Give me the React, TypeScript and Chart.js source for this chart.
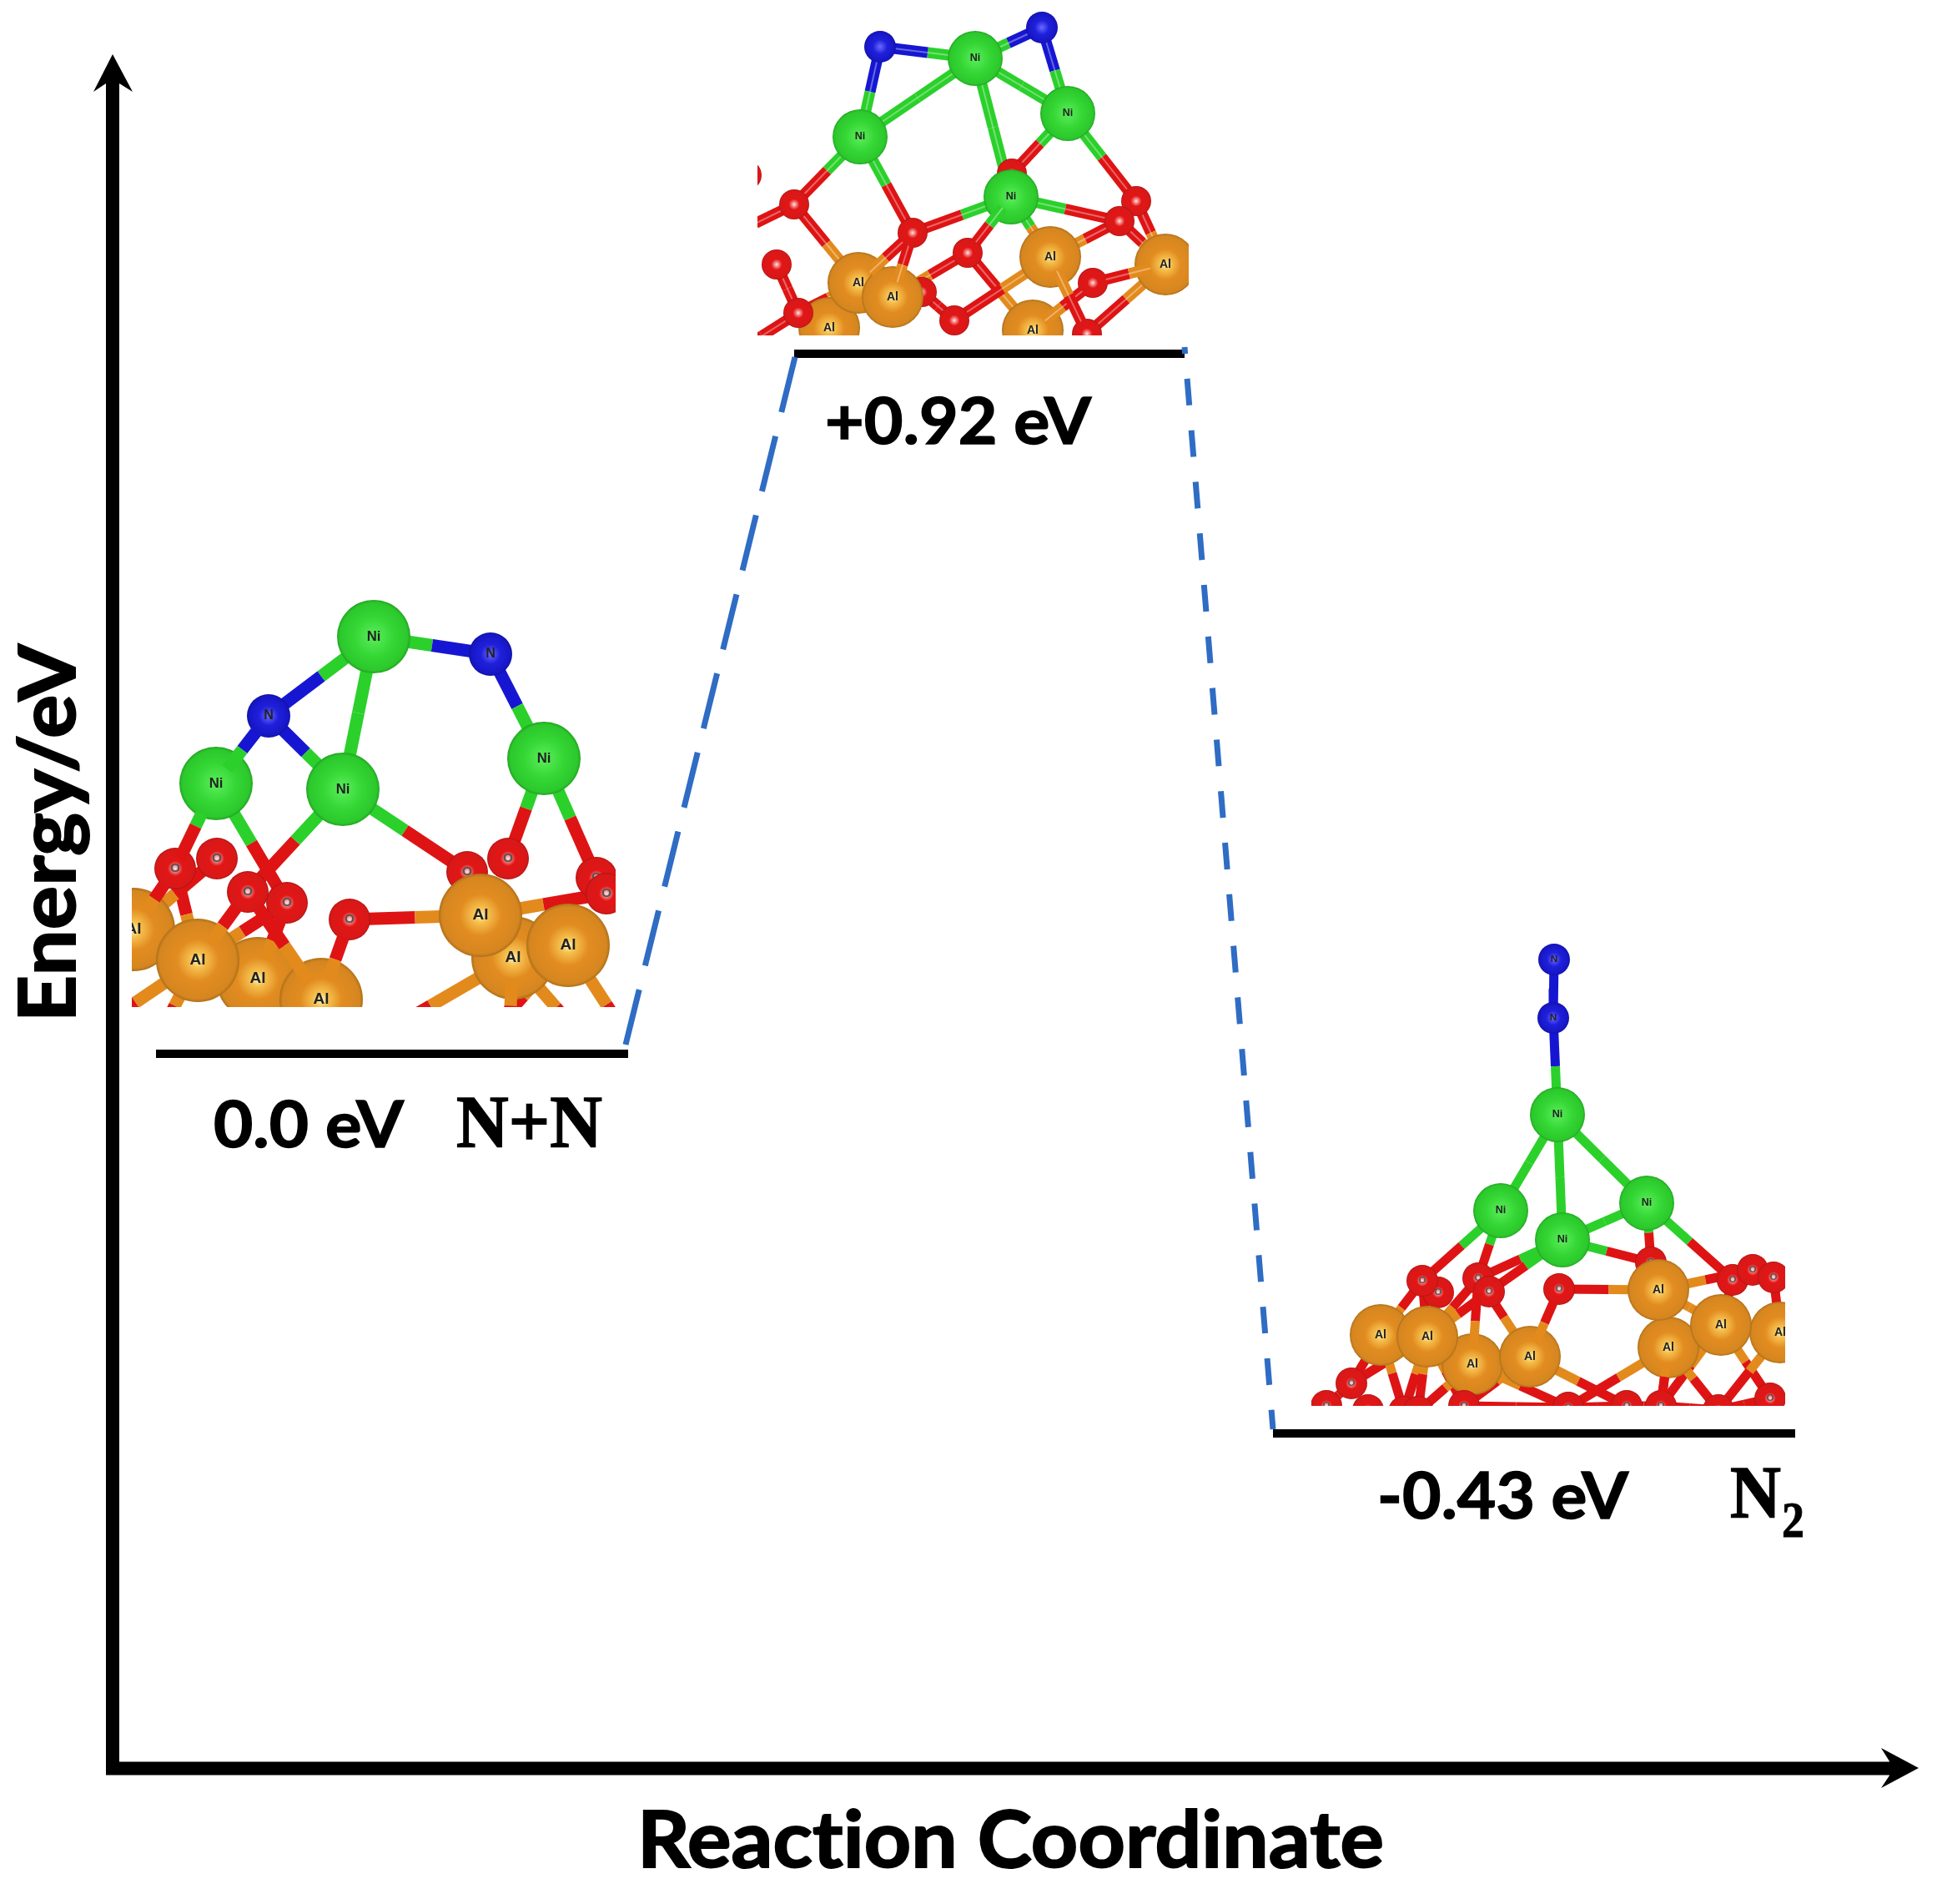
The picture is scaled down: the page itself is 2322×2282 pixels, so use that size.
import React, { useEffect, useRef } from "react";
import { Chart, registerables } from "chart.js";

Chart.register(...registerables);

const FIG_W = 2322;
const FIG_H = 2282;

type Atom = [string, number, number];
type Bond = [number, number];
type P = { x: number; y: number };

// Energy levels (figure units)
const levelNames = ["N+N", "TS", "N2"];
const levelEnergies = ["0.0 eV", "+0.92 eV", "-0.43 eV"];
const levelStartX = [187, 952, 1526];
const levelEndX = [753, 1420, 2152];
const levelY = [1263, 424, 1718];

// Dashed connectors
const riseX = [953, 750];
const riseY = [428, 1252];
const fallX = [1420, 1526];
const fallY = [416, 1713];

// Axes
const xAxisX = [127, 2275];
const xAxisY = [2119.5, 2119.5];
const yAxisX = [135, 135];
const yAxisY = [2127, 95];
const xHeadX = [2300, 2255, 2265, 2265, 2255, 2300];
const xHeadY = [2119, 2095, 2111, 2128, 2143, 2119];
const yHeadX = [135, 159, 143, 127, 112, 135];
const yHeadY = [65, 110, 100, 100, 110, 65];

// Structure 1: N+N
const mol1Atoms: Atom[] = [
  ["Ni", 448, 763], ["N", 588, 784], ["Ni", 652, 909], ["N", 322, 858], ["Ni", 259, 939], ["Ni", 411, 946],
  ["O", 560, 1045], ["O", 609, 1029], ["O", 715, 1052], ["O", 260, 1029], ["O", 344, 1082], ["O", 210, 1041],
  ["O", 297, 1069], ["O", 419, 1102], ["Al", 160, 1114], ["Al", 309, 1173], ["Al", 615, 1148], ["Al", 237, 1151],
  ["Al", 385, 1198], ["Al", 681, 1133], ["Al", 576, 1097], ["O", 727, 1071],
  ["O", 88, 1252], ["O", 417, 1263], ["O", 609, 1263], ["O", 573, 1255], ["O", 773, 1275], ["O", 718, 1267],
  ["O", 182, 1260], ["O", 337, 1260],
];
const mol1Bonds: Bond[] = [
  [0, 1], [0, 3], [0, 5], [1, 2], [3, 5], [2, 7], [2, 8], [4, 10], [5, 12], [5, 6], [11, 17], [13, 20],
  [20, 21], [17, 10], [14, 9], [17, 22], [16, 23], [19, 25], [19, 26], [16, 27], [17, 28], [17, 29],
];
const mol1Front: Bond[] = [
  [3, 4], [4, 11], [11, 14], [12, 17], [10, 15], [13, 18], [24, 16], [12, 18],
];

// Structure 2: transition state
const mol2Atoms: Atom[] = [
  ["Ni", 1169, 70], ["N", 1055, 56], ["N", 1249, 33], ["Ni", 1031, 164], ["Ni", 1280, 136], ["O", 1213, 208],
  ["Ni", 1212, 236], ["O", 952, 245], ["O", 1094, 279], ["O", 1160, 303], ["O", 1362, 241], ["O", 1342, 265],
  ["O", 1105, 350], ["O", 931, 317], ["Al", 994, 393], ["O", 957, 375], ["O", 1144, 384], ["Al", 1238, 396],
  ["Al", 1259, 308], ["Al", 1397, 317], ["O", 1310, 339], ["O", 1303, 400], ["Al", 1029, 339], ["Al", 1070, 356],
  ["Al", 860, 290], ["O", 895, 210], ["O", 870, 430],
];
const mol2Bonds: Bond[] = [
  [0, 1], [0, 2], [0, 3], [0, 4], [0, 6], [1, 3], [2, 4], [3, 7], [3, 8], [6, 8], [6, 11], [6, 18], [4, 5],
  [4, 10], [7, 22], [7, 24], [9, 23], [9, 17], [11, 18], [10, 19], [11, 19], [20, 17], [16, 18], [21, 19],
  [13, 15], [15, 14], [12, 16], [15, 26], [15, 22],
];
const mol2Front: Bond[] = [
  [9, 6], [8, 23], [8, 22], [20, 17], [21, 18], [20, 19],
];

// Structure 3: N2
const mol3Atoms: Atom[] = [
  ["N", 1863, 1150], ["N", 1862, 1220], ["Ni", 1867, 1336], ["Ni", 1799, 1451], ["Ni", 1974, 1442], ["Ni", 1873, 1486],
  ["O", 1979, 1513], ["O", 1724, 1549], ["O", 1705, 1535], ["O", 1772, 1532], ["O", 1869, 1545], ["O", 2077, 1534],
  ["O", 2101, 1522], ["O", 2126, 1531], ["O", 1620, 1658], ["Al", 1655, 1600], ["Al", 1765, 1635], ["Al", 1711, 1602],
  ["Al", 1834, 1626], ["Al", 2134, 1597], ["Al", 2000, 1615], ["Al", 1988, 1546], ["Al", 2063, 1588], ["O", 2122, 1676],
  ["O", 1950, 1685], ["O", 1991, 1685], ["O", 1755, 1685], ["O", 1880, 1687], ["O", 1590, 1685], ["O", 1640, 1690],
  ["O", 2060, 1690], ["O", 1683, 1692], ["O", 1700, 1692], ["O", 1785, 1548],
];
const mol3Bonds: Bond[] = [
  [0, 1], [1, 2], [2, 3], [2, 4], [2, 5], [3, 8], [3, 9], [5, 4], [5, 9], [5, 33], [5, 6], [4, 6], [4, 11], [8, 15],
  [9, 17], [9, 18], [10, 21], [21, 12], [21, 22], [15, 14], [17, 14], [17, 26], [16, 26], [18, 24], [18, 26],
  [20, 27], [20, 25], [22, 25], [22, 23], [14, 28], [19, 13], [22, 11], [26, 27], [27, 24], [24, 25], [25, 30],
  [30, 23], [16, 27], [17, 31], [15, 31], [16, 32], [17, 32], [19, 30], [20, 30], [33, 17], [8, 17],
];
const mol3Front: Bond[] = [
  [9, 16], [10, 18], [25, 20],
];

// Presentation
const crops = [
  { left: 158, right: 738, top: 0, bottom: 1207 },
  { left: 908, right: 1425, top: 0, bottom: 402 },
  { left: 1572, right: 2140, top: 0, bottom: 1685 },
];
const radii = [
  { Ni: 44, N: 26, O: 25, Al: 50 },
  { Ni: 33, N: 19, O: 18, Al: 37 },
  { Ni: 33, N: 19, O: 19, Al: 37 },
] as Record<string, number>[];
const bondWidths = [15, 13, 11];
const labelSmallAtoms = [true, false, true];
const bondColors: Record<string, string> = { Ni: "#2bd02b", N: "#1616d2", O: "#de1414", Al: "#e38a1c" };
const shades: Record<string, [number, string][]> = {
  Ni: [[0, "#5cee5c"], [0.55, "#34d634"], [0.92, "#2cc82c"], [1, "#22a422"]],
  N: [[0, "#6a6aff"], [0.45, "#2020dc"], [0.92, "#1616c4"], [1, "#10109c"]],
  O: [[0, "#ffe8e8"], [0.16, "#f28080"], [0.36, "#e21616"], [0.92, "#d81818"], [1, "#ac1212"]],
  Al: [[0, "#fff6c0"], [0.18, "#f6c04e"], [0.5, "#e28c20"], [0.92, "#d68620"], [1, "#ae701a"]],
};

function atomSprite(type: string, r: number, labelled: boolean): HTMLCanvasElement {
  const c = document.createElement("canvas");
  c.width = c.height = Math.ceil(2 * r + 2);
  const g = c.getContext("2d")!;
  const m = c.width / 2;
  const grad = g.createRadialGradient(m, m, 0, m, m, r);
  shades[type].forEach(([s, col]) => grad.addColorStop(s, col));
  g.fillStyle = grad;
  g.beginPath();
  g.arc(m, m, r, 0, Math.PI * 2);
  g.fill();
  if (labelled) {
    const size = type === "O" || type === "N" ? r * 0.62 : r * 0.38;
    g.font = `bold ${size}px "Liberation Sans"`;
    g.textAlign = "center";
    g.textBaseline = "middle";
    g.fillStyle = type === "O" ? "#555" : "#222";
    g.fillText(type, m, m);
  }
  return c;
}

function buildMolecule(atoms: Atom[], bonds: Bond[], front: Bond[], mi: number, paint: any[]) {
  const crop = crops[mi];
  const rad = radii[mi];
  const clip = {
    left: -crop.left,
    right: -(FIG_W - crop.right),
    top: -crop.top,
    bottom: -(FIG_H - crop.bottom),
  };
  const line = (a: P, b: P, color: string, width: number) =>
    paint.push({ data: [a, b], borderColor: color, borderWidth: width, pointRadius: 0, clip, borderCapStyle: "butt" });
  const bond = (A: Atom, B: Atom, isFront: boolean) => {
    let a = { x: A[1], y: A[2] };
    let b = { x: B[1], y: B[2] };
    const mid = { x: (a.x + b.x) / 2, y: (a.y + b.y) / 2 };
    if (isFront) {
      const len = Math.hypot(b.x - a.x, b.y - a.y);
      const ux = (b.x - a.x) / len;
      const uy = (b.y - a.y) / len;
      a = { x: a.x + ux * rad[A[0]] * 0.9, y: a.y + uy * rad[A[0]] * 0.9 };
      b = { x: b.x - ux * rad[B[0]] * 0.5, y: b.y - uy * rad[B[0]] * 0.5 };
    }
    line(a, mid, bondColors[A[0]], bondWidths[mi]);
    line(mid, b, bondColors[B[0]], bondWidths[mi]);
    if (mi === 1) {
      line(a, b, "rgba(255,255,255,0.35)", 2);
    }
  };
  bonds.forEach(([i, j]) => bond(atoms[i], atoms[j], false));
  atoms.forEach(([t, x, y]) => {
    const labelled = t === "Ni" || t === "Al" || labelSmallAtoms[mi];
    paint.push({
      data: [{ x, y }],
      showLine: false,
      pointStyle: atomSprite(t, rad[t], labelled),
      pointRadius: rad[t],
      clip,
    });
  });
  front.forEach(([i, j]) => bond(atoms[i], atoms[j], true));
}

const pts = (xs: number[], ys: number[]): P[] => xs.map((x, i) => ({ x, y: ys[i] }));

function fitText(
  ctx: CanvasRenderingContext2D,
  text: string,
  font: string,
  x: number,
  y: number,
  width: number,
  angle = 0,
  heavy = 0,
) {
  ctx.save();
  ctx.font = font;
  (ctx as any).letterSpacing = "0.1px";
  ctx.textAlign = "left";
  ctx.textBaseline = "alphabetic";
  ctx.fillStyle = "#000";
  ctx.strokeStyle = "#000";
  ctx.lineWidth = heavy;
  ctx.translate(x, y);
  ctx.rotate(angle);
  ctx.scale(width / ctx.measureText(text).width, 1);
  ctx.fillText(text, 0, 0);
  if (heavy > 0) ctx.strokeText(text, 0, 0);
  ctx.restore();
}

const figureText = {
  id: "figureText",
  afterDatasetsDraw(chart: any) {
    const ctx = chart.ctx as CanvasRenderingContext2D;
    const X = (v: number) => chart.scales.x.getPixelForValue(v);
    const Y = (v: number) => chart.scales.y.getPixelForValue(v);
    const sans = (s: number) => `bold ${s}px Lato`;
    const serif = (s: number) => `bold ${s}px "Liberation Serif"`;
    fitText(ctx, levelEnergies[0], sans(76), X(256), Y(1375), 228, 0, 1.5);
    fitText(ctx, "N+N", serif(89), X(547), Y(1374), 175, 0, 1.5);
    fitText(ctx, levelEnergies[1], sans(76), X(989), Y(532), 319, 0, 1.5);
    fitText(ctx, levelEnergies[2], sans(76), X(1651), Y(1820), 301, 0, 1.5);
    fitText(ctx, "N", serif(89), X(2074), Y(1818), 61, 0, 1.5);
    fitText(ctx, "2", serif(62), X(2136), Y(1842), 27, 0, 1);
    fitText(ctx, "Reaction Coordinate", sans(94), X(764), Y(2238), 895, 0, 2);
    fitText(ctx, "Energy/eV", sans(93), X(90), Y(1225), 453, -Math.PI / 2, 2);
  },
};

export default function App() {
  const ref = useRef<HTMLCanvasElement>(null);
  useEffect(() => {
    document.body.style.margin = "0";
    const paint: any[] = [];
    buildMolecule(mol1Atoms, mol1Bonds, mol1Front, 0, paint);
    buildMolecule(mol2Atoms, mol2Bonds, mol2Front, 1, paint);
    buildMolecule(mol3Atoms, mol3Bonds, mol3Front, 2, paint);
    levelNames.forEach((name, i) => {
      paint.push({
        label: name,
        data: pts([levelStartX[i], levelEndX[i]], [levelY[i], levelY[i]]),
        borderColor: "#000",
        borderWidth: 10,
        pointRadius: 0,
      });
    });
    paint.push({
      data: pts(riseX, riseY),
      borderColor: "#2f6cc4",
      borderWidth: 7,
      borderDash: [68, 29.6],
      pointRadius: 0,
    });
    paint.push({
      data: pts(fallX, fallY),
      borderColor: "#2f6cc4",
      borderWidth: 7,
      borderDash: [32, 30],
      borderDashOffset: 24,
      pointRadius: 0,
    });
    paint.push({ data: pts(xAxisX, xAxisY), borderColor: "#000", borderWidth: 16, pointRadius: 0 });
    paint.push({ data: pts(yAxisX, yAxisY), borderColor: "#000", borderWidth: 16, pointRadius: 0 });
    paint.push({ data: pts(xHeadX, xHeadY), borderColor: "#000", borderWidth: 0, backgroundColor: "#000", fill: "shape", pointRadius: 0 });
    paint.push({ data: pts(yHeadX, yHeadY), borderColor: "#000", borderWidth: 0, backgroundColor: "#000", fill: "shape", pointRadius: 0 });

    const chart = new Chart(ref.current!, {
      type: "line",
      data: { datasets: paint.map((d, i) => ({ order: -i, tension: 0, ...d })) },
      options: {
        responsive: false,
        devicePixelRatio: 1,
        animation: false,
        events: [],
        layout: { padding: 0, autoPadding: false },
        scales: {
          x: { type: "linear", min: 0, max: FIG_W, display: false },
          y: { type: "linear", min: 0, max: FIG_H, reverse: true, display: false },
        },
        plugins: { legend: { display: false }, tooltip: { enabled: false } },
      },
      plugins: [figureText],
    } as any);
    return () => chart.destroy();
  }, []);
  return (
    <canvas
      ref={ref}
      width={FIG_W}
      height={FIG_H}
      style={{ display: "block", position: "absolute", left: 0, top: 0, filter: "blur(0.7px)" }}
    />
  );
}
